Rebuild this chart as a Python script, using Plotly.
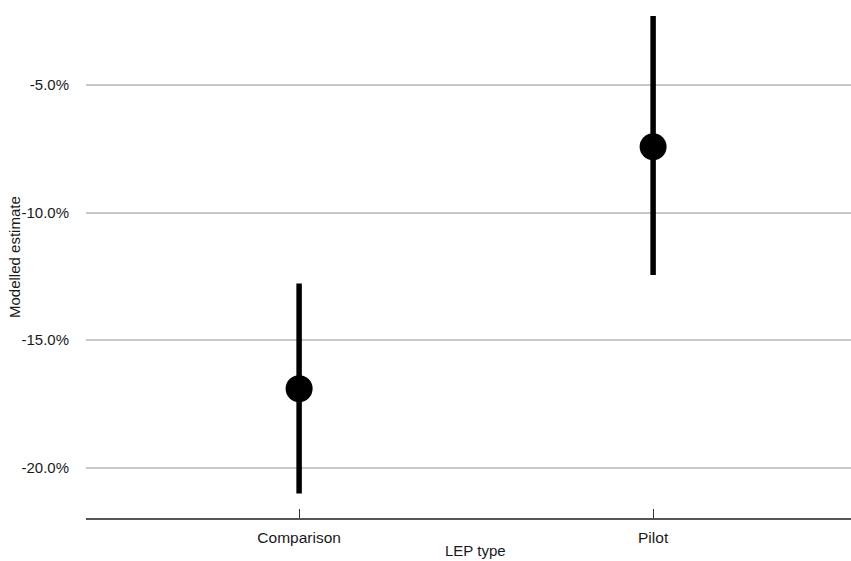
import plotly.graph_objects as go

categories = ["Comparison", "Pilot"]
estimate = [-16.90, -7.42]
lower = [-21.01, -12.45]
upper = [-12.78, -2.30]
ytick_vals = [-20, -15, -10, -5]
ytick_text = ["-20.0%", "-15.0%", "-10.0%", "-5.0%"]

err_plus = [u - e for u, e in zip(upper, estimate)]
err_minus = [e - l for e, l in zip(estimate, lower)]

fig = go.Figure()
fig.add_trace(go.Scatter(
    x=[1, 2], y=estimate, mode="markers",
    marker=dict(color="black", size=27),
    error_y=dict(type="data", symmetric=False, array=err_plus, arrayminus=err_minus,
                 thickness=5.5, width=0, color="black"),
    showlegend=False,
))

font = "Liberation Sans, Arial, sans-serif"
fig.update_layout(
    width=851, height=561,
    margin=dict(l=86, r=0, t=0, b=43),
    plot_bgcolor="white", paper_bgcolor="white",
    font=dict(family=font, size=15, color="#1a1a1a"),
    xaxis=dict(
        range=[0.398, 2.559], tickvals=[1, 2], ticktext=categories,
        showgrid=False, zeroline=False,
        showline=True, linecolor="#555555", linewidth=1.5,
        ticks="inside", ticklen=9, tickcolor="#333333", tickwidth=1.2,
        ticklabelstandoff=5,
        tickfont=dict(size=15.5, color="#1a1a1a"),
    ),
    yaxis=dict(
        range=[-21.97, -1.67], tickvals=ytick_vals, ticktext=ytick_text,
        showgrid=True, gridcolor="#c8c8c8", gridwidth=1.6,
        zeroline=False, showline=False, ticks="",
        ticklabelstandoff=16,
        tickfont=dict(size=15, color="#1a1a1a"),
    ),
    annotations=[
        dict(text="LEP type", xref="paper", yref="paper",
             x=(475 - 86) / 765, y=-(550 - 518) / 518,
             xanchor="center", yanchor="middle", showarrow=False,
             font=dict(size=15, color="#1a1a1a")),
        dict(text="Modelled estimate", xref="paper", yref="paper",
             x=(14 - 86) / 765, y=(518 - 257) / 518, textangle=-90,
             xanchor="center", yanchor="middle", showarrow=False,
             font=dict(size=15, color="#1a1a1a")),
    ],
)

fig.write_html("out.html")
